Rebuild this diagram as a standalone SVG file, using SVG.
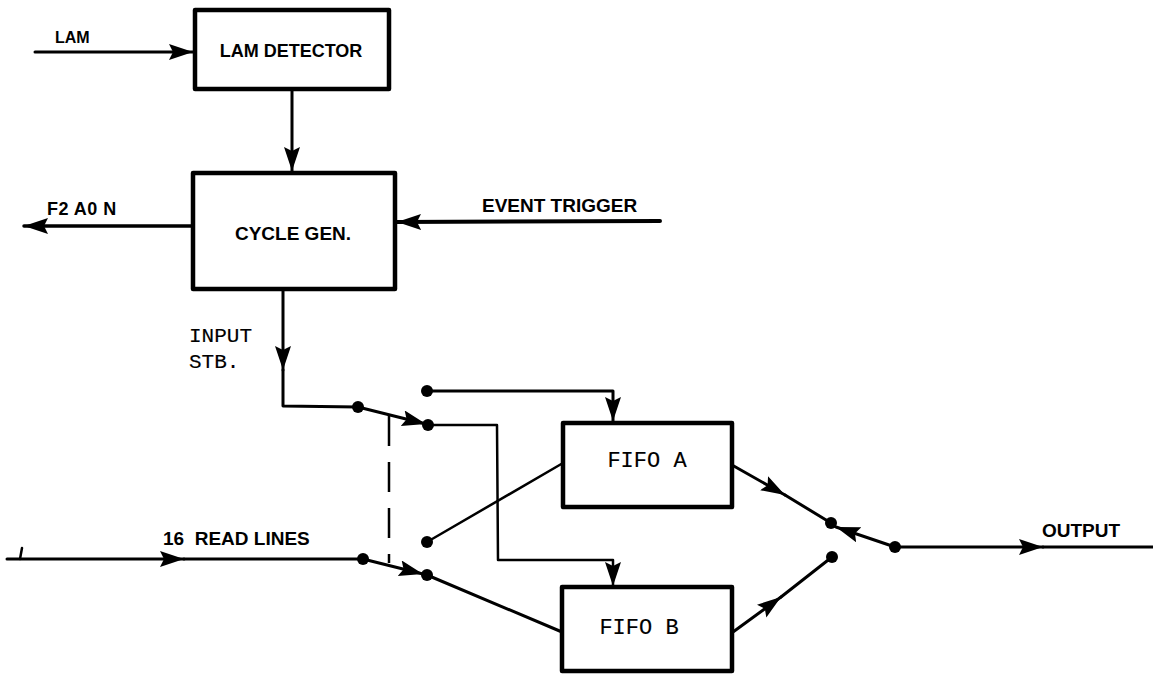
<svg xmlns="http://www.w3.org/2000/svg" width="1153" height="678" viewBox="0 0 1153 678">
<style>
.box{fill:#fff;stroke:#000;stroke-width:4.5;stroke-linejoin:round}
.ln{fill:none;stroke:#000;stroke-width:3;stroke-linecap:round;stroke-linejoin:round}
.thin{fill:none;stroke:#000;stroke-width:2.5;stroke-linecap:round}
.dash{fill:none;stroke:#000;stroke-width:2.5;stroke-dasharray:30 16}
.sans{font-family:"Liberation Sans",Arial,sans-serif;font-weight:bold;fill:#000}
.mono{font-family:"Liberation Mono","Courier New",monospace;fill:#000;stroke:#000;stroke-width:0.15}
.dot{fill:#000}
</style>
<defs>
<marker id="ah" markerUnits="userSpaceOnUse" markerWidth="26" markerHeight="18" refX="24" refY="8" orient="auto">
<path d="M0,0 L24,8 L0,16 L4,8 z" fill="#000"/>
</marker>
</defs>
<rect width="1153" height="678" fill="#fff"/>

<g id="connectors">
<!-- LAM input -->
<path class="ln" d="M35,52 L193,52" marker-end="url(#ah)"/>
<!-- LAM detector to cycle gen -->
<path class="ln" d="M292,89 L292,171" marker-end="url(#ah)"/>
<!-- F2 A0 N output -->
<path class="ln" d="M193,226 L24,226" marker-end="url(#ah)" style="stroke-width:3.5"/>
<!-- Event trigger -->
<path class="ln" d="M660,221 L397,222" marker-end="url(#ah)" style="stroke-width:4"/>
<!-- Input strobe -->
<path class="ln" d="M283,289 L283,370" marker-end="url(#ah)"/>
<path class="ln" d="M283,370 L283,406 L358,407"/>
<path class="ln" d="M358,407 L426,424" marker-end="url(#ah)"/>
<path class="ln" d="M428,425 L497,425 L498,560 L613,560 L613,586" marker-end="url(#ah)" style="stroke-width:2.5"/>
<path class="ln" d="M427,391 L613,391 L613,421" marker-end="url(#ah)"/>
<!-- ganged switch link -->
<path class="dash" d="M389,416 L389,563"/>
<!-- 16 read lines -->
<path class="thin" d="M20,559 L22,548"/>
<path class="ln" d="M7,559 L184,559" marker-end="url(#ah)"/>
<path class="ln" d="M184,559 L363,559"/>
<path class="ln" d="M363,559 L423,574" marker-end="url(#ah)"/>
<path class="ln" d="M427,575 L562,632"/>
<path class="thin" d="M427,542 L563,463"/>
<!-- FIFO outputs -->
<path class="ln" d="M732,465 L785,495" marker-end="url(#ah)"/>
<path class="ln" d="M785,495 L831,523"/>
<path class="ln" d="M733,632 L781,597" marker-end="url(#ah)"/>
<path class="ln" d="M781,597 L832,557"/>
<!-- output switch -->
<path class="ln" d="M895,547 L836,527" marker-end="url(#ah)"/>
<path class="ln" d="M895,547 L1043,547" marker-end="url(#ah)"/>
<path class="ln" d="M1043,547 L1153,547"/>
<!-- switch contacts -->
<circle class="dot" cx="358" cy="407" r="6"/>
<circle class="dot" cx="428" cy="425" r="6"/>
<circle class="dot" cx="427" cy="391" r="6"/>
<circle class="dot" cx="363" cy="559" r="6"/>
<circle class="dot" cx="427" cy="575" r="6"/>
<circle class="dot" cx="427" cy="542" r="6"/>
<circle class="dot" cx="831" cy="523" r="6"/>
<circle class="dot" cx="832" cy="557" r="6"/>
<circle class="dot" cx="895" cy="547" r="6"/>
</g>

<g id="lam-detector">
<rect class="box" x="195" y="10" width="194" height="79"/>
<text class="sans" x="291" y="57" font-size="18" text-anchor="middle">LAM DETECTOR</text>
</g>
<g id="cycle-gen">
<rect class="box" x="193" y="173" width="202" height="116"/>
<text class="sans" x="293" y="240" font-size="19" text-anchor="middle">CYCLE GEN.</text>
</g>
<g id="fifo-a">
<rect class="box" x="563" y="423" width="169" height="84"/>
<text class="mono" x="647" y="467" font-size="22" text-anchor="middle">FIFO A</text>
</g>
<g id="fifo-b">
<rect class="box" x="562" y="587" width="170" height="84"/>
<text class="mono" x="639" y="634" font-size="22" text-anchor="middle">FIFO B</text>
</g>

<g id="labels">
<text class="sans" x="55" y="43" font-size="16">LAM</text>
<text class="sans" x="47" y="215" font-size="18" letter-spacing="0.5">F2 A0 N</text>
<text class="sans" x="482" y="212" font-size="19">EVENT TRIGGER</text>
<text class="mono" x="189" y="342" font-size="21">INPUT</text>
<text class="mono" x="189" y="368" font-size="21">STB.</text>
<text class="sans" x="163" y="545" font-size="19" xml:space="preserve">16  READ LINES</text>
<text class="sans" x="1042" y="537" font-size="19">OUTPUT</text>
</g>
</svg>
